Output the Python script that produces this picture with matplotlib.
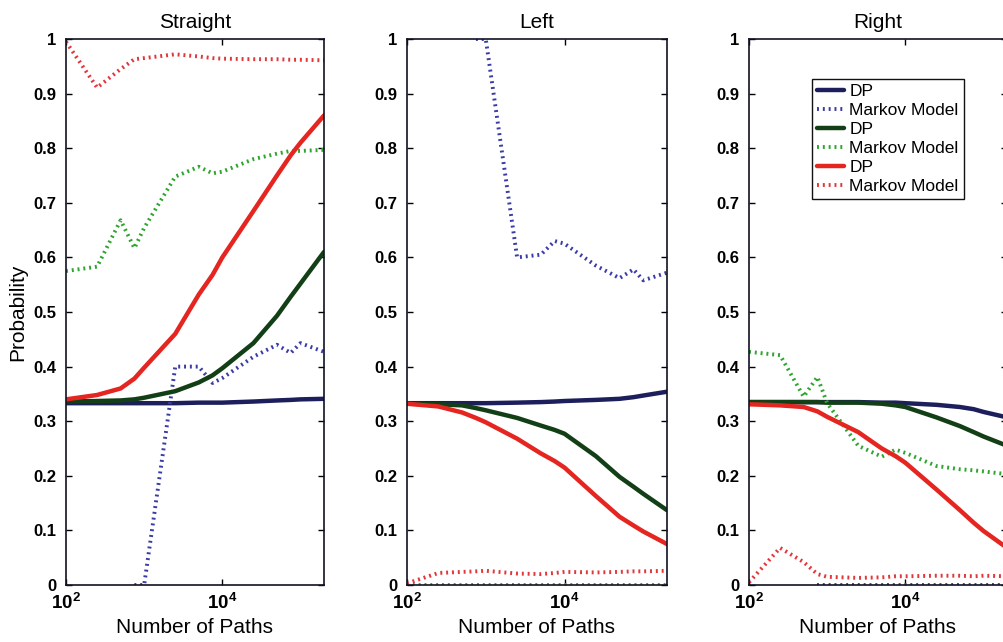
import numpy as np
import matplotlib
matplotlib.use("Agg")
import matplotlib.pyplot as plt
from matplotlib.ticker import FixedLocator, NullLocator, FuncFormatter

plt.rcParams['font.family'] = ['Liberation Sans', 'DejaVu Sans']
plt.rcParams['mathtext.fontset'] = 'custom'
plt.rcParams['mathtext.rm'] = 'Liberation Sans:bold'
plt.rcParams['mathtext.it'] = 'Liberation Sans:bold'
plt.rcParams['mathtext.bf'] = 'Liberation Sans:bold'

nan = np.nan

# number of paths (shared x samples)
n_paths = [100, 250, 500, 750, 1000, 2500, 5000, 7500, 10000, 25000, 50000, 75000, 100000, 200000]

titles = ['Straight', 'Left', 'Right']
legend_labels = ['DP', 'Markov Model', 'DP', 'Markov Model', 'DP', 'Markov Model']

# Straight
st_dp_blue = [0.333, 0.333, 0.333, 0.333, 0.333, 0.333, 0.334, 0.334, 0.334, 0.336, 0.338, 0.339, 0.340, 0.341]
st_mm_blue = [nan, nan, nan, 0.0, 0.0, 0.40, 0.40, 0.37, 0.379, 0.418, 0.44, 0.425, 0.443, 0.427]
st_dp_green = [0.336, 0.337, 0.338, 0.340, 0.343, 0.355, 0.371, 0.384, 0.397, 0.443, 0.493, 0.528, 0.552, 0.61]
st_mm_green = [0.575, 0.583, 0.668, 0.617, 0.654, 0.748, 0.766, 0.754, 0.757, 0.78, 0.79, 0.795, 0.795, 0.797]
st_dp_red = [0.34, 0.348, 0.36, 0.378, 0.398, 0.46, 0.532, 0.568, 0.60, 0.685, 0.75, 0.787, 0.81, 0.86]
st_mm_red = [0.995, 0.911, 0.945, 0.963, 0.965, 0.972, 0.968, 0.965, 0.964, 0.963, 0.963, 0.962, 0.962, 0.961]

# Left
lf_dp_blue = [0.333, 0.333, 0.333, 0.333, 0.333, 0.334, 0.335, 0.336, 0.337, 0.339, 0.341, 0.344, 0.347, 0.354]
lf_mm_blue = [nan, nan, nan, 1.0, 1.0, 0.60, 0.605, 0.63, 0.625, 0.585, 0.562, 0.578, 0.558, 0.572]
lf_dp_green = [0.332, 0.331, 0.329, 0.324, 0.32, 0.306, 0.292, 0.284, 0.277, 0.236, 0.198, 0.18, 0.167, 0.137]
lf_mm_green = [0.0] * 14
lf_dp_red = [0.332, 0.327, 0.316, 0.306, 0.298, 0.268, 0.241, 0.227, 0.215, 0.163, 0.125, 0.109, 0.098, 0.075]
lf_mm_red = [0.003, 0.022, 0.024, 0.025, 0.026, 0.021, 0.02, 0.022, 0.024, 0.023, 0.024, 0.025, 0.025, 0.026]

# Right
rt_dp_blue = [0.335, 0.335, 0.335, 0.335, 0.335, 0.335, 0.334, 0.334, 0.333, 0.33, 0.326, 0.322, 0.317, 0.307]
rt_mm_blue = [nan, nan, nan, 0.0, 0.0, 0.0, 0.0, 0.0, 0.0, 0.0, 0.0, 0.0, 0.0, 0.0]
rt_dp_green = [0.335, 0.335, 0.335, 0.335, 0.334, 0.334, 0.332, 0.329, 0.326, 0.307, 0.291, 0.28, 0.272, 0.255]
rt_mm_green = [0.427, 0.421, 0.345, 0.381, 0.333, 0.255, 0.235, 0.248, 0.242, 0.218, 0.212, 0.21, 0.208, 0.203]
rt_dp_red = [0.331, 0.329, 0.326, 0.318, 0.308, 0.28, 0.25, 0.236, 0.224, 0.175, 0.137, 0.114, 0.099, 0.068]
rt_mm_red = [0.005, 0.068, 0.042, 0.02, 0.015, 0.013, 0.014, 0.016, 0.016, 0.017, 0.017, 0.016, 0.017, 0.016]

panels = [
    [st_dp_blue, st_mm_blue, st_dp_green, st_mm_green, st_dp_red, st_mm_red],
    [lf_dp_blue, lf_mm_blue, lf_dp_green, lf_mm_green, lf_dp_red, lf_mm_red],
    [rt_dp_blue, rt_mm_blue, rt_dp_green, rt_mm_green, rt_dp_red, rt_mm_red],
]

colors = ['#1c1f5c', '#3b3ba8', '#133f16', '#2ea52e', '#e42520', '#e2373a']
styles = ['-', (0, (0.5, 1.0)), '-', (0, (0.5, 1.0)), '-', (0, (0.5, 1.0))]
widths = [3.2, 2.8, 3.2, 2.8, 3.2, 2.8]

fig = plt.figure(figsize=(10.04, 6.42), dpi=100)
fig.patch.set_facecolor('white')

W, H = 1004.0, 642.0
boxes = [(66, 258), (407, 260), (749, 258)]
y_top, y_bot = 39, 585

for i, (left, width) in enumerate(boxes):
    ax = fig.add_axes([left / W, 1 - y_bot / H, width / W, (y_bot - y_top) / H])
    lines = []
    for s, c, ls, lw in zip(panels[i], colors, styles, widths):
        ln, = ax.plot(n_paths, s, color=c, linestyle=ls, linewidth=lw,
                      dash_capstyle='butt', solid_capstyle='round')
        lines.append(ln)
    ax.set_xscale('log')
    ax.set_xlim(100, 2e5)
    ax.set_ylim(0, 1)
    ax.xaxis.set_major_locator(FixedLocator([1e2, 1e4]))
    ax.xaxis.set_minor_locator(NullLocator())
    ax.xaxis.set_major_formatter(FuncFormatter(lambda v, p: r'$10^{%d}$' % round(np.log10(v))))
    ax.set_yticks(np.arange(0, 1.01, 0.1))
    ax.yaxis.set_major_formatter(FuncFormatter(lambda v, p: '%g' % round(v, 1)))
    ax.tick_params(direction='in', top=True, right=True, length=4, width=1.0,
                   labelsize=12, pad=7)
    ax.tick_params(axis='x', labelsize=13.5, pad=6)
    for lab in ax.get_yticklabels():
        lab.set_fontweight('bold')
    for sp in ax.spines.values():
        sp.set_linewidth(1.2)
        sp.set_color('#111122')
    ax.set_title(titles[i], fontsize=15, pad=8)
    ax.set_xlabel('Number of Paths', fontsize=15, labelpad=3)
    if i == 0:
        ax.set_ylabel('Probability', fontsize=15, labelpad=4)
    if i == 2:
        leg = ax.legend(lines, legend_labels, loc='upper left',
                        bbox_to_anchor=(0.244, 0.927), borderaxespad=0,
                        prop={'size': 12.5}, handlelength=1.55,
                        handletextpad=0.3, labelspacing=0.22, borderpad=0.3,
                        fancybox=False, framealpha=1, edgecolor='#111111')
        leg.get_frame().set_linewidth(1.0)

fig.savefig('out.png', dpi=100)
